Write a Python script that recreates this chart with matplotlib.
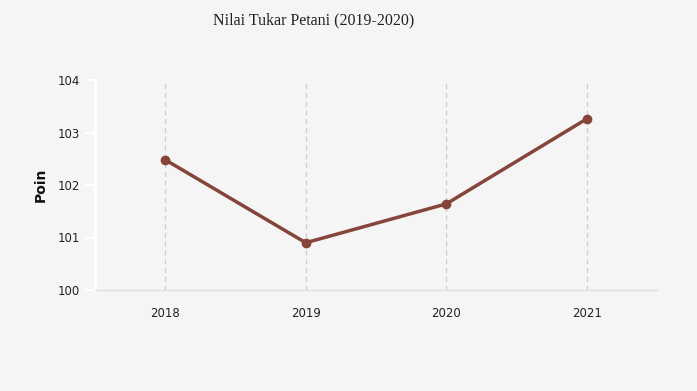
import matplotlib
matplotlib.use("Agg")
import matplotlib.pyplot as plt

plt.rcParams["font.family"] = ["DejaVu Sans"]

years = ["2018", "2019", "2020", "2021"]
values = [102.48, 100.90, 101.64, 103.26]
yticks = [100, 101, 102, 103, 104]

bg = "#f5f5f5"
color = "#85453b"

fig = plt.figure(figsize=(6.97, 3.91), dpi=100, facecolor=bg)
ax = fig.add_axes([95/697, 1-290/391, (657-95)/697, (290-80)/391], facecolor=bg)

x = list(range(len(years)))
ax.plot(x, values, color=color, lw=2.5, marker="o", ms=6, zorder=3, solid_capstyle="round")

ax.set_xlim(-0.5, len(years)-0.5)
ax.set_ylim(100, 104)
ax.set_xticks(x)
ax.set_xticklabels(years)
ax.set_yticks(yticks)
ax.set_yticklabels([str(v) for v in yticks])

for xi in x:
    ax.axvline(xi, color="#cccccc", lw=0.9, ls=(0, (4, 3)), zorder=1)

for s in ["top", "right"]:
    ax.spines[s].set_visible(False)
ax.spines["left"].set_color("white")
ax.spines["left"].set_linewidth(2)
ax.spines["bottom"].set_color("#dddddd")
ax.spines["bottom"].set_linewidth(1)

ax.tick_params(axis="y", colors="white", length=7, width=1.5, labelcolor="#222222", labelsize=8.5, pad=4)
ax.tick_params(axis="x", length=0, labelcolor="#222222", labelsize=8.5, pad=12)

ax.set_ylabel("Poin", fontsize=10, fontweight="bold", color="#111111", labelpad=7)

fig.text(314/697, 1-20/391, "Nilai Tukar Petani (2019-2020)", ha="center", va="center",
         fontsize=11.5, family="Liberation Serif", color="#222222")

fig.savefig("out.png", dpi=100, facecolor=bg)
